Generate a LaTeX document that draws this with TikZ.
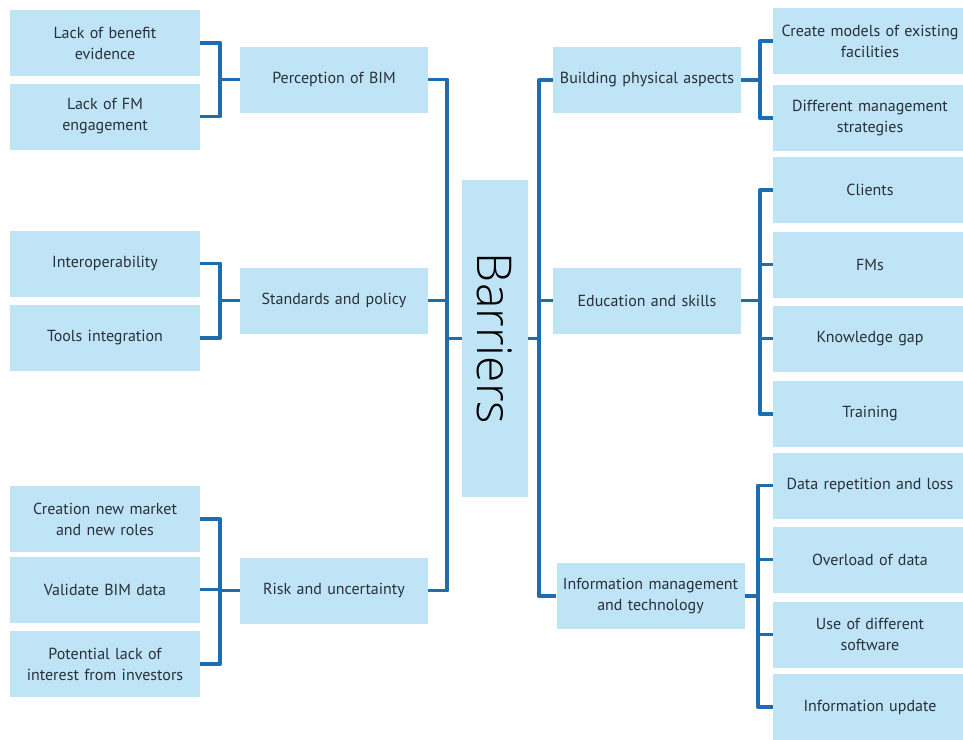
\documentclass[tikz,border=0pt]{standalone}
\usepackage{fontspec}
\setmainfont{PT Sans}
\newfontfamily\barfont{Open Sans Light}
\definecolor{boxfill}{RGB}{190,228,246}
\definecolor{linecol}{RGB}{30,110,175}
\definecolor{txtcol}{RGB}{40,48,58}
\begin{document}
\begin{tikzpicture}[x=1pt,y=-1pt,
  box/.style={rectangle,fill=boxfill,draw=none,minimum height=66pt,inner sep=2pt,align=center,text=txtcol,font=\fontsize{16}{21}\selectfont},
  lbox/.style={box,minimum width=190pt,text width=186pt},
  mbox/.style={box,minimum width=188pt,text width=184pt},
  rbox/.style={box,minimum width=184pt,text width=190pt},
  conn/.style={draw=linecol,line width=3.8pt,line join=round}]
\useasboundingbox (0,0) rectangle (963,739);
\fill[white] (0,0) rectangle (963,739);
% left leaves
\node[lbox] (lb) at (105,43) {Lack of benefit\\evidence};
\node[lbox] (lf) at (105,116.5) {Lack of FM\\engagement};
\node[lbox] (io) at (105,263.5) {Interoperability};
\node[lbox] (ti) at (105,338) {Tools integration};
\node[lbox] (cn) at (105,519) {Creation new market\\and new roles};
\node[lbox] (vb) at (105,589.5) {Validate BIM data};
\node[lbox] (pl) at (105,664) {Potential lack of\\interest from investors};
% left middle
\node[mbox] (pb) at (334,79.5) {Perception of BIM};
\node[mbox] (sp) at (334,300.5) {Standards and policy};
\node[mbox] (ru) at (334,590.5) {Risk and uncertainty};
% centre
\node[box,minimum width=66pt,minimum height=317pt] (bar) at (495,338.5) {};
\node[rotate=-90,font=\barfont\fontsize{48}{48}\selectfont,text=black] (bartext) at (bar.center) {Barriers};
% right middle
\node[mbox] (bp) at (647,80) {Building physical aspects};
\node[mbox] (es) at (647,300.5) {Education and skills};
\node[mbox] (im) at (650.5,596) {Information management\\and technology};
% right leaves
\node[rbox] (cm) at (870,41) {Create models of existing\\facilities};
\node[rbox] (dm) at (870,118) {Different management\\strategies};
\node[rbox] (cl) at (870,190) {Clients};
\node[rbox] (fm) at (870,264.5) {FMs};
\node[rbox] (kg) at (870,338.5) {Knowledge gap};
\node[rbox] (tr) at (870,414) {Training};
\node[rbox] (dr) at (870,485.5) {Data repetition and loss};
\node[rbox] (od) at (870,559.5) {Overload of data};
\node[rbox] (ud) at (870,634.5) {Use of different\\software};
\node[rbox] (iu) at (870,707) {Information update};
% left brackets
\foreach \a/\b in {lb/pb,lf/pb,io/sp,ti/sp,cn/ru,vb/ru,pl/ru}
  \draw[conn] (\a.east) -- ++(20,0) |- (\b.west);
\foreach \a in {pb,sp,ru}
  \draw[conn] (\a.east) -- ++(19,0) |- (bar.west);
% right trunk
\foreach \b in {bp,es,im}
  \draw[conn] (bar.east) -- ++(11,0) |- (\b.west);
% right brackets
\foreach \a/\b in {bp/cm,bp/dm,es/cl,es/fm,es/kg,es/tr}
  \draw[conn] (\a.east) -- ++(19,0) |- (\b.west);
\foreach \b in {dr,od,ud,iu}
  \draw[conn] (im.east) -- ++(13,0) |- (\b.west);
\end{tikzpicture}
\end{document}
